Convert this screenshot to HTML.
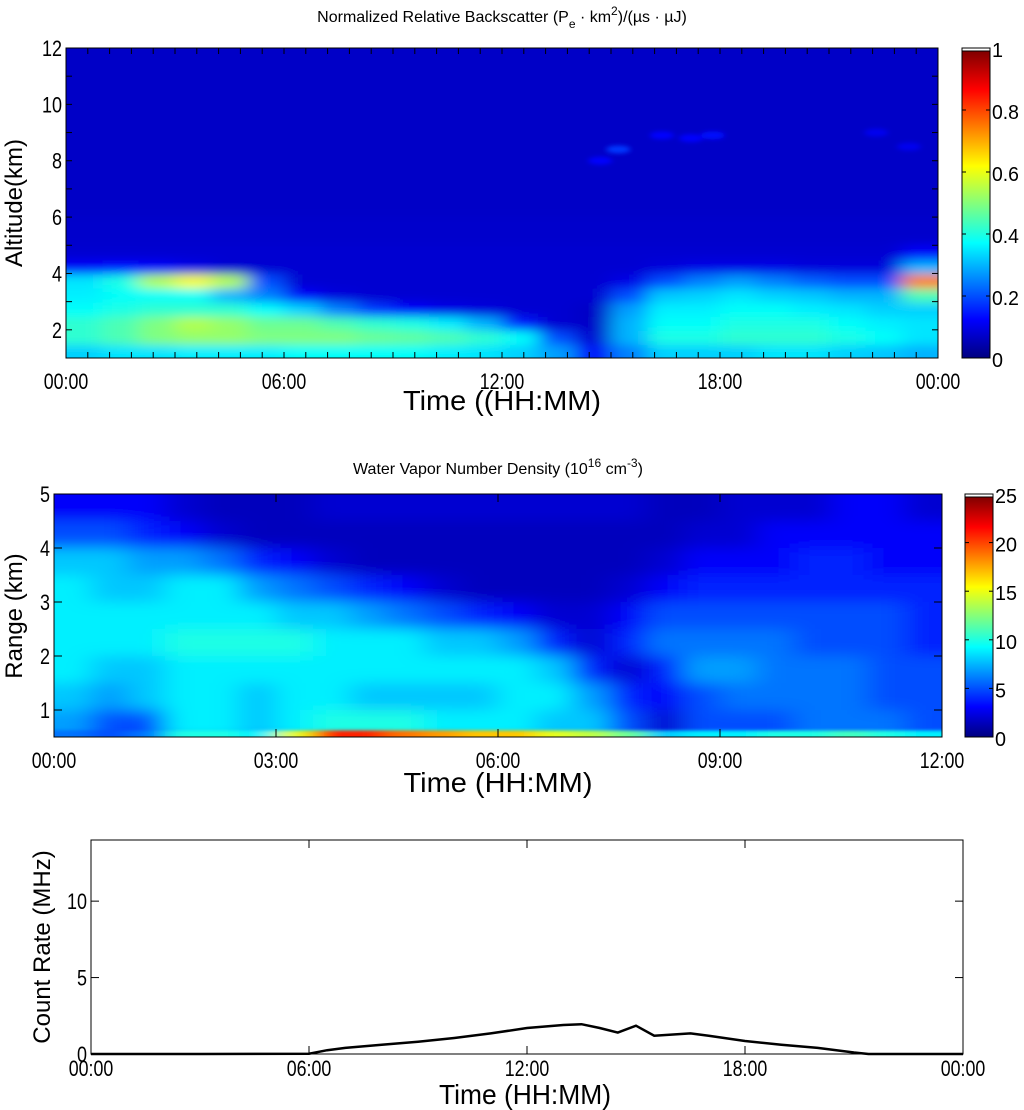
<!DOCTYPE html>
<html><head><meta charset="utf-8">
<style>
html,body{margin:0;padding:0;background:#fff;}
svg{display:block;}
text{font-family:"Liberation Sans",sans-serif;fill:#000;}
.tk{font-size:22px;}
.cb{font-family:"Liberation Sans",sans-serif;font-size:20px;}
.yl{font-family:"Liberation Sans",sans-serif;font-size:24px;}
.xl{font-size:28px;}
.tt{font-size:16px;}
</style></head>
<body>
<svg id="fig" width="1024" height="1110" viewBox="0 0 1024 1110" xmlns="http://www.w3.org/2000/svg">
<defs>
<linearGradient id="jet" x1="0" y1="1" x2="0" y2="0">
<stop offset="0" stop-color="#000080"/><stop offset="0.125" stop-color="#0000ff"/>
<stop offset="0.375" stop-color="#00ffff"/><stop offset="0.625" stop-color="#ffff00"/>
<stop offset="0.875" stop-color="#ff0000"/><stop offset="1" stop-color="#800000"/>
</linearGradient>
<filter id="blur1" x="-5%" y="-5%" width="110%" height="110%"><feGaussianBlur stdDeviation="10 5"/></filter>
<filter id="blur2" x="-5%" y="-5%" width="110%" height="110%"><feGaussianBlur stdDeviation="14 7"/></filter>
<filter id="blur3"><feGaussianBlur stdDeviation="3 2"/></filter>
<filter id="blur4" x="-5%" y="-50%" width="110%" height="200%"><feGaussianBlur stdDeviation="12 1.5"/></filter>
<clipPath id="clip1"><rect x="66" y="48" width="872" height="310"/></clipPath>
<clipPath id="clip2"><rect x="54" y="494" width="888" height="243"/></clipPath>
</defs>
<g id="p1"></g>
<g id="p2"></g>
<g id="p3"></g>
</svg>
<script>
// ---------- Panel 1 data (hourly columns, 0.5 km rows from 1 km) ----------
const bsHours = [0,1,2,3,4,5,6,7,8,9,10,11,12,13,14,15,16,17,18,19,20,21,22,23];
const bsRowBottoms = [1,1.5,2,2.5,3,3.5,4,4.5];
const bsRow0 = [0.33,0.35,0.35,0.36,0.36,0.36,0.38,0.38,0.38,0.38,0.36,0.35,0.33,0.28,0.12,0.25,0.33,0.33,0.33,0.35,0.35,0.33,0.32,0.3];
const bsRow1 = [0.42,0.45,0.5,0.52,0.52,0.5,0.5,0.5,0.48,0.47,0.45,0.42,0.38,0.2,0.08,0.3,0.4,0.4,0.42,0.42,0.42,0.4,0.38,0.35];
const bsRow2 = [0.42,0.45,0.5,0.55,0.52,0.48,0.48,0.45,0.42,0.4,0.36,0.3,0.15,0.08,0.07,0.3,0.38,0.38,0.4,0.4,0.4,0.38,0.36,0.35];
const bsRow3 = [0.38,0.4,0.42,0.42,0.42,0.38,0.33,0.25,0.18,0.12,0.1,0.09,0.08,0.08,0.07,0.28,0.36,0.36,0.38,0.38,0.36,0.35,0.33,0.33];
const bsRow4 = [0.36,0.38,0.38,0.38,0.3,0.25,0.12,0.09,0.08,0.08,0.08,0.08,0.08,0.08,0.08,0.2,0.32,0.33,0.35,0.33,0.32,0.3,0.3,0.45];
const bsRow5 = [0.35,0.4,0.55,0.62,0.55,0.2,0.08,0.08,0.08,0.08,0.08,0.08,0.08,0.08,0.08,0.1,0.2,0.25,0.28,0.25,0.22,0.2,0.2,0.75];
const bsRow6 = [0.12,0.14,0.12,0.1,0.08,0.08,0.08,0.08,0.08,0.08,0.08,0.08,0.08,0.08,0.08,0.08,0.09,0.1,0.1,0.1,0.09,0.09,0.09,0.3];
const bsRow7 = [0.08,0.08,0.08,0.08,0.08,0.08,0.08,0.08,0.08,0.08,0.08,0.08,0.08,0.08,0.08,0.08,0.08,0.08,0.08,0.08,0.08,0.08,0.08,0.12];
const bsBackground = 0.07;
const cloudT = [14.7,15.2,16.4,17.2,17.8,22.3,23.2];
const cloudZ = [8.0,8.4,8.9,8.8,8.9,9.0,8.5];
const cloudV = [0.13,0.18,0.13,0.13,0.14,0.11,0.11];
const bsXTicks = ["00:00","06:00","12:00","18:00","00:00"];
const bsYTicks = [2,4,6,8,10,12];
const bsCbTicks = [0,0.2,0.4,0.6,0.8,1];

// ---------- Panel 2 data (half-hour columns) ----------
const wvRowEdges = [0.5,0.62,1,1.5,2,2.5,3,3.5,4,4.5,5];
const wvR0 = [6,5,6,10,10,9,15,21,21,19,18,17,17,15,14,12,8,9,9,10,10,11,10,9];
const wvR1 = [7,5,5,9,9,8,9,10,10,10,9,9,9,8,8,5,2,5,5,5,6,6,6,5];
const wvR2 = [8,7,8,9,9,8,9,9,8,8,8,8,9,9,7,4,3,5,6,6,6,6,5,5];
const wvR3 = [9,8,8,9,9,9,9,9,9,9,9,9,9,8,4,2,4,7,7,6,6,6,5,5];
const wvR4 = [9,9,9,10,10,10,10,9,9,9,8,8,7,4,2,4,6,6,6,6,5,5,5,4];
const wvR5 = [9,9,9,9,9,9,8,8,7,6,5,4,3,2,2,3,5,5,5,5,5,5,5,4];
const wvR6 = [9,8,8,9,9,7,6,5,4,3,2,1.5,1.5,1.5,1.5,2,3,4,4,4,4,4,4,4];
const wvR7 = [8,8,7,7,6,4,3,2,1.5,1.5,1.5,1.5,1.5,1.5,1.5,1.5,2,3,3,3,4,4,3,3];
const wvR8 = [5,5,4,3,2,1.5,1.5,1.5,1.5,1.5,1.5,1.5,1.5,1.5,1.5,1.5,1.5,2,2,3,3,3,3,3];
const wvR9 = [3,3,3,2,1.5,1.5,1.5,2,2,2,2,2,2,2,2,2,1.5,1.5,2,2,2,3,3,2];
const wvXTicks = ["00:00","03:00","06:00","09:00","12:00"];
const wvYTicks = [1,2,3,4,5];
const wvCbTicks = [0,5,10,15,20,25];

// ---------- Panel 3 data ----------
const crTime = [0,3,6,6.5,7,8,9,10,11,12,13,13.5,14,14.5,15,15.5,16.5,17,18,19,20,21,21.4,24];
const crRate = [0,0,0.02,0.25,0.4,0.6,0.8,1.05,1.35,1.7,1.9,1.95,1.7,1.4,1.85,1.2,1.35,1.2,0.85,0.6,0.4,0.1,0,0];
const crXTicks = ["00:00","06:00","12:00","18:00","00:00"];
const crYTicks = [0,5,10];

const NS="http://www.w3.org/2000/svg";
function mk(tag, attrs, parent){const e=document.createElementNS(NS,tag);for(const k in attrs)e.setAttribute(k,attrs[k]);parent.appendChild(e);return e;}
function jet(v){v=Math.max(0,Math.min(1,v));
  const c=(x)=>Math.max(0,Math.min(1,x));
  const r=c(1.5-Math.abs(4*v-3)), g=c(1.5-Math.abs(4*v-2)), b=c(1.5-Math.abs(4*v-1));
  return `rgb(${Math.round(r*255)},${Math.round(g*255)},${Math.round(b*255)})`;}
function narrowLen(s){let L=0;for(const ch of s){L+=(ch===':'||ch==='.')?4.5:10;}return L;}

function axes(g,x0,y0,w,h){
  const r=mk('rect',{x:x0,y:y0,width:w,height:h,fill:'none',stroke:'#000','stroke-width':1},g);
  
  
}
function txt(g,x,y,s,cls,anchor,name,len){const t=mk('text',{x:x,y:y,'class':cls,'text-anchor':anchor||'middle'},g);t.textContent=s;
  if(len){t.setAttribute('textLength',len);t.setAttribute('lengthAdjust','spacingAndGlyphs');}
  
  
  return t;}
function colorbar(g,x,y,w,h,ticks,max){
  const r=mk('rect',{x:x,y:y+3,width:w,height:h-3,fill:'url(#jet)',stroke:'#000','stroke-width':1},g);
  
  
  mk('rect',{x:x,y:y,width:w,height:3,fill:'#fff',stroke:'#000','stroke-width':1},g);
  ticks.forEach(v=>{const ty=y+h-(v/max)*h;
    mk('line',{x1:x,x2:x+4,y1:ty,y2:ty,stroke:'#000'},g);mk('line',{x1:x+w-4,x2:x+w,y1:ty,y2:ty,stroke:'#000'},g);
    txt(g,x+w+2,ty+9,String(v),'cb','start','colorbar-tick-label',narrowLen(String(v))*1.1);});
}

// ===== Panel 1 =====
(function(){
  const g=document.getElementById('p1');
  const X0=66,W=872,Y0=48,H=310;
  const xs=t=>X0+t/24*W, ys=z=>Y0+H-(z-1)/11*H;
  const hm=mk('g',{'clip-path':'url(#clip1)'},g);
  
  
  mk('rect',{x:X0,y:Y0,width:W,height:H,fill:jet(bsBackground)},hm);
  const bl=mk('g',{filter:'url(#blur1)'},hm);
  mk('rect',{x:X0-30,y:ys(6),width:W+60,height:ys(5)-ys(6)+1,fill:jet(0.075)},bl);
  const rows=[bsRow0,bsRow1,bsRow2,bsRow3,bsRow4,bsRow5,bsRow6,bsRow7];
  rows.forEach((row,ri)=>{const zb=bsRowBottoms[ri], zt=zb+0.5;
    row.forEach((v,ci)=>{const t0=bsHours[ci];
      let xa=xs(t0), xb=xs(t0+1); if(ci===0)xa-=30; if(ci===row.length-1)xb+=30;
      let ya=ys(zt), yb=ys(zb); if(ri===0)yb+=30;
      const c=mk('rect',{x:xa,y:ya,width:xb-xa+1,height:yb-ya+1,fill:jet(v)},bl);
      
      
    });});
  const cb=mk('g',{filter:'url(#blur3)'},hm);
  cloudT.forEach((t,i)=>{const e=mk('ellipse',{cx:xs(t),cy:ys(cloudZ[i]),rx:12,ry:4,fill:jet(cloudV[i])},cb);
    
    });
  for(let i=0;i<=40;i++){const x=X0+i*W/40;mk('line',{x1:x,x2:x,y1:Y0+H,y2:Y0+H-6,stroke:'#000'},g);mk('line',{x1:x,x2:x,y1:Y0,y2:Y0+6,stroke:'#000'},g);}
  for(let z=1;z<=12;z++){const y=ys(z);mk('line',{x1:X0,x2:X0+6,y1:y,y2:y,stroke:'#000'},g);mk('line',{x1:X0+W-6,x2:X0+W,y1:y,y2:y,stroke:'#000'},g);}
  axes(g,X0,Y0,W,H);
  bsXTicks.forEach((s,i)=>txt(g,X0+i*W/4,Y0+H+31,s,'tk','middle','x-tick-label',narrowLen(s)));
  bsYTicks.forEach(v=>txt(g,X0-4,ys(v)+8,String(v),'tk','end','y-tick-label',narrowLen(String(v))));
  txt(g,502,410,'Time ((HH:MM)','xl','middle','x-axis-title',198);
  const yt=txt(g,0,0,'Altitude(km)','yl','middle','y-axis-title');yt.setAttribute('transform','translate(22,203) rotate(-90)');
  const tt=mk('text',{x:502,y:22,'class':'tt','text-anchor':'middle'},g);
  
  
  tt.innerHTML='Normalized Relative Backscatter (P<tspan dy="6" font-size="12">e</tspan><tspan dy="-6"> · km</tspan><tspan dy="-7" font-size="12">2</tspan><tspan dy="7">)/(µs · µJ)</tspan>';
  colorbar(g,962,48,28,310,bsCbTicks,1);
})();

// ===== Panel 2 =====
(function(){
  const g=document.getElementById('p2');
  const X0=54,W=888,Y0=494,H=243;
  const xs=t=>X0+t/12*W, ys=z=>Y0+H-(z-0.5)/4.5*H;
  const hm=mk('g',{'clip-path':'url(#clip2)'},g);
  
  
  mk('rect',{x:X0,y:Y0,width:W,height:H,fill:jet(2/25)},hm);
  const bl=mk('g',{filter:'url(#blur2)'},hm);
  const rows=[wvR0,wvR1,wvR2,wvR3,wvR4,wvR5,wvR6,wvR7,wvR8,wvR9];
  for(let ri=rows.length-1;ri>=1;ri--){const row=rows[ri];const zb=wvRowEdges[ri], zt=wvRowEdges[ri+1];
    row.forEach((v,ci)=>{let xa=xs(ci*0.5), xb=xs(ci*0.5+0.5); if(ci===0)xa-=30; if(ci===row.length-1)xb+=30;
      let ya=ys(zt), yb=ys(zb); if(ri===rows.length-1)ya-=20; if(ri===1)yb+=10;
      const c=mk('rect',{x:xa,y:ya,width:xb-xa+1,height:yb-ya+1,fill:jet(v/25)},bl);
      
      
    });}
  const bl0=mk('g',{filter:'url(#blur4)'},hm);
  wvR0.forEach((v,ci)=>{let xa=xs(ci*0.5), xb=xs(ci*0.5+0.5); if(ci===0)xa-=30; if(ci===wvR0.length-1)xb+=30;
    const c=mk('rect',{x:xa,y:ys(wvRowEdges[1]),width:xb-xa+1,height:ys(wvRowEdges[0])-ys(wvRowEdges[1])+6,fill:jet(v/25)},bl0);
    
    
  });
  for(let i=1;i<4;i++){const x=X0+i*W/4;mk('line',{x1:x,x2:x,y1:Y0+H,y2:Y0+H-8,stroke:'#000'},g);mk('line',{x1:x,x2:x,y1:Y0,y2:Y0+8,stroke:'#000'},g);}
  wvYTicks.forEach(v=>{const y=ys(v);mk('line',{x1:X0,x2:X0+8,y1:y,y2:y,stroke:'#000'},g);mk('line',{x1:X0+W-8,x2:X0+W,y1:y,y2:y,stroke:'#000'},g);});
  axes(g,X0,Y0,W,H);
  wvXTicks.forEach((s,i)=>txt(g,X0+i*W/4,Y0+H+31,s,'tk','middle','x-tick-label',narrowLen(s)));
  wvYTicks.forEach(v=>txt(g,X0-4,ys(v)+8,String(v),'tk','end','y-tick-label',narrowLen(String(v))));
  txt(g,498,792,'Time (HH:MM)','xl','middle','x-axis-title',189);
  const yt=txt(g,0,0,'Range (km)','yl','middle','y-axis-title');yt.setAttribute('transform','translate(22,616) rotate(-90)');
  const tt=mk('text',{x:498,y:474,'class':'tt','text-anchor':'middle'},g);
  
  
  tt.innerHTML='Water Vapor Number Density (10<tspan dy="-7" font-size="12">16</tspan><tspan dy="7"> cm</tspan><tspan dy="-7" font-size="12">-3</tspan><tspan dy="7">)</tspan>';
  colorbar(g,965,494,28,243,wvCbTicks,25);
})();

// ===== Panel 3 =====
(function(){
  const g=document.getElementById('p3');
  const X0=91,W=872,Y0=840,H=214;
  const xs=t=>X0+t/24*W, ys=v=>Y0+H-v/14*H;
  for(let i=1;i<4;i++){const x=X0+i*W/4;mk('line',{x1:x,x2:x,y1:Y0+H,y2:Y0+H-8,stroke:'#000'},g);mk('line',{x1:x,x2:x,y1:Y0,y2:Y0+8,stroke:'#000'},g);}
  crYTicks.forEach(v=>{const y=ys(v);mk('line',{x1:X0,x2:X0+8,y1:y,y2:y,stroke:'#000'},g);mk('line',{x1:X0+W-8,x2:X0+W,y1:y,y2:y,stroke:'#000'},g);});
  axes(g,X0,Y0,W,H);
  const d=crTime.map((t,i)=>(i?'L':'M')+xs(t).toFixed(1)+','+ys(crRate[i]).toFixed(1)).join(' ');
  const p=mk('path',{d:d,fill:'none',stroke:'#000','stroke-width':2.5},g);
  
  
  crXTicks.forEach((s,i)=>txt(g,X0+i*W/4,Y0+H+22,s,'tk','middle','x-tick-label',narrowLen(s)));
  crYTicks.forEach(v=>txt(g,X0-4,ys(v)+8,String(v),'tk','end','y-tick-label',narrowLen(String(v))));
  txt(g,525,1104,'Time (HH:MM)','xl','middle','x-axis-title',172);
  const yt=txt(g,0,0,'Count Rate (MHz)','yl','middle','y-axis-title');yt.setAttribute('transform','translate(50,947) rotate(-90)');
})();
</script>
</body></html>
